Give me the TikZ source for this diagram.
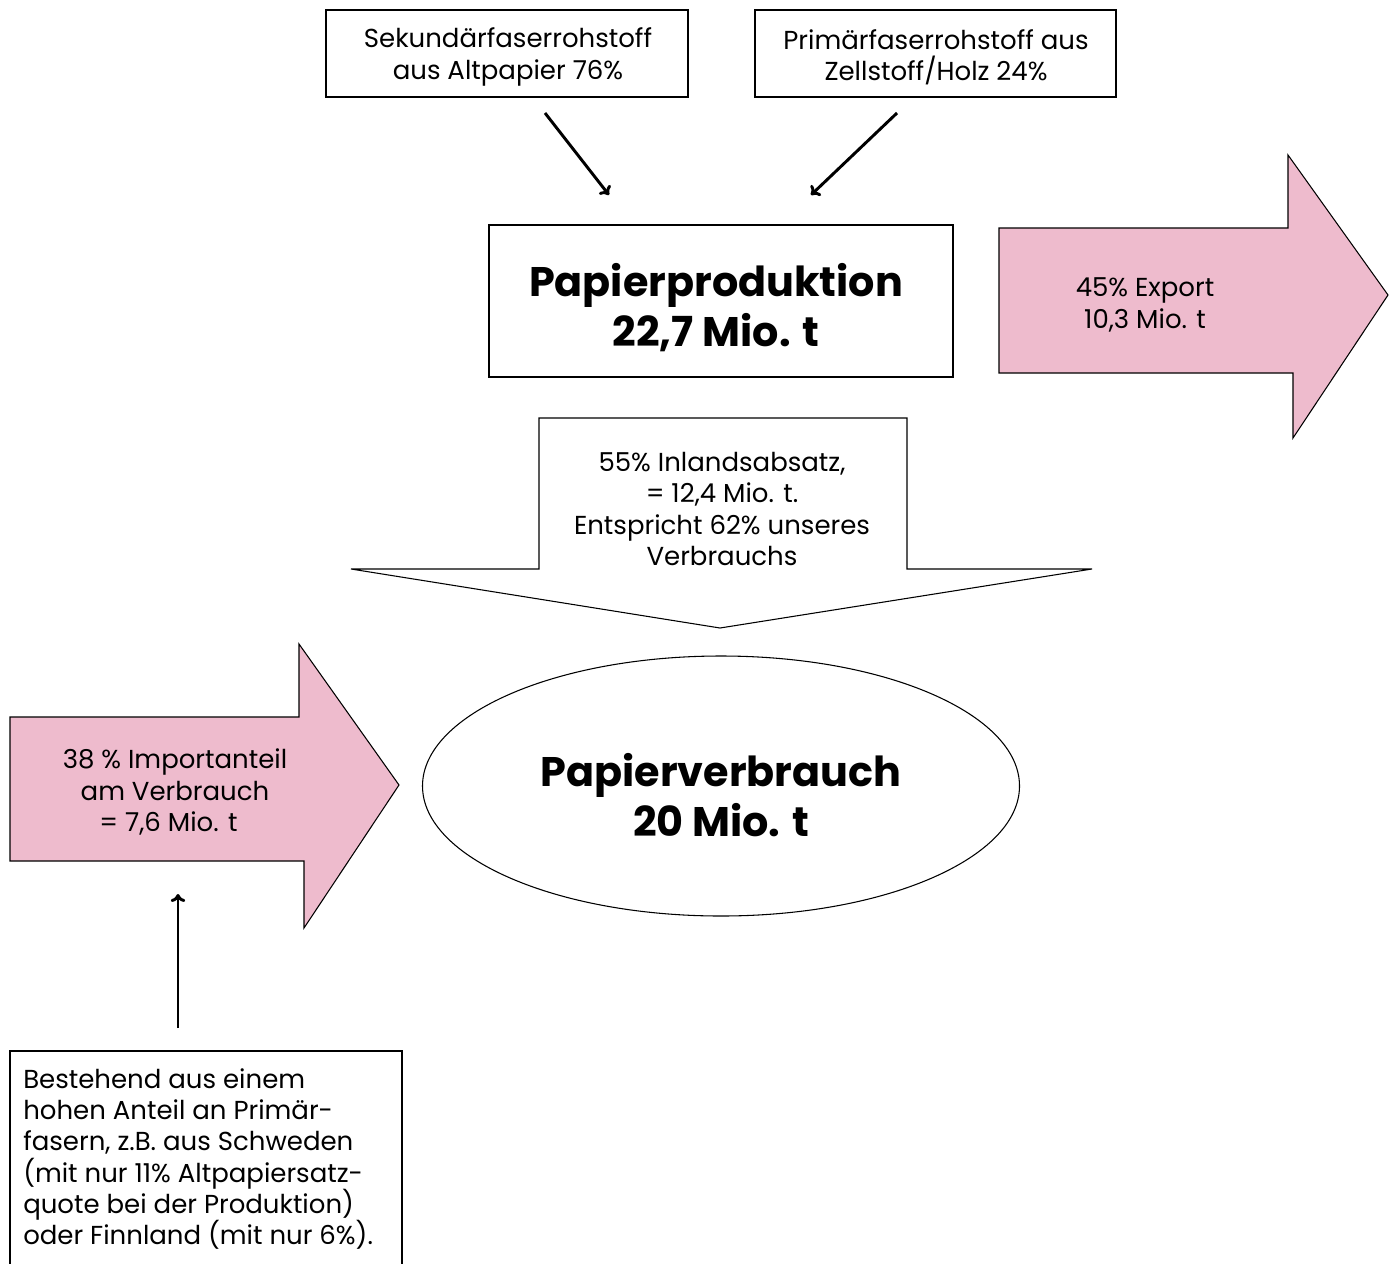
\documentclass[tikz,border=0pt]{standalone}
\usepackage{fontspec}
\setmainfont{Poppins}
\usetikzlibrary{arrows.meta}
\definecolor{pinkfill}{HTML}{EEBBCD}
\tikzset{
  box/.style={draw=black, line width=0.8pt},
  txt/.style={font=\fontsize{19.5}{23.5}\selectfont, align=center, inner sep=0pt},
  big/.style={font=\fontsize{31}{37.5}\selectfont\bfseries, align=center, inner sep=0pt},
  fat/.style={draw=black, line width=0.8pt, fill=pinkfill},
  conn/.style={line width=2.2pt, -{To[length=6pt,width=11pt]}}
}
\begin{document}
\begin{tikzpicture}[x=0.75pt,y=-0.75pt]
\useasboundingbox (0,0) rectangle (1394,1263);
% top boxes
\draw[box] (326,10) rectangle (688,97);
\node[txt] (sek) at (508,57) {Sekundärfaserrohstoff\\aus Altpapier 76\%};
\draw[box] (755,10) rectangle (1116,97);
\node[txt] (prim) at (936,57) {Primärfaserrohstoff aus\\Zellstoff/Holz 24\%};
% arrows
\coordinate (a1s) at (545,113);
\coordinate (a1e) at (609,195);
\coordinate (a2s) at (897,113);
\coordinate (a2e) at (811,195);
\draw[conn] (a1s) -- (a1e);
\draw[conn] (a2s) -- (a2e);
% production
\draw[box] (489,225) rectangle (953,377);
\node[big] (prod) at (716,308) {Papierproduktion\\22,7 Mio. t};
% export
\draw[fat] (999,228) -- (1288,228) -- (1288,155) -- (1388,295) -- (1293,438) -- (1293,373) -- (999,373) -- cycle;
\node[txt] (exp) at (1145,305) {45\% Export\\10,3 Mio. t};
% inland down arrow
\draw[box] (539,418) -- (907,418) -- (907,569) -- (1092,569) -- (720,628) -- (351,569) -- (539,569) -- cycle;
\node[txt] (inl) at (722,509) {55\% Inlandsabsatz,\\= 12,4 Mio. t.\\Entspricht 62\% unseres\\Verbrauchs};
% consumption ellipse
\draw[box] (721,786) ellipse [x radius=298.5, y radius=130];
\node[big] (verb) at (721,795) {Papierverbrauch\\20 Mio. t};
% import arrow
\draw[fat] (10,717) -- (299,717) -- (299,644) -- (399,785) -- (304,928) -- (304,861) -- (10,861) -- cycle;
\node[txt] (imp) at (175,792) {38 \% Importanteil\\am Verbrauch\\\hspace*{-15pt} = 7,6 Mio. t};
% up arrow
\coordinate (a3s) at (178,1028);
\coordinate (a3e) at (178,894);
\draw[conn] (a3s) -- (a3e);
% bottom box
\draw[box] (10,1264) -- (10,1051) -- (402,1051) -- (402,1264);
\node[txt, align=left, anchor=north west] (note) at (23,1068) {Bestehend aus einem\\hohen Anteil an Primär-\\fasern, z.B. aus Schweden\\(mit nur 11\% Altpapiersatz-\\quote bei der Produktion)\\oder Finnland (mit nur 6\%).};
\end{tikzpicture}
\end{document}
